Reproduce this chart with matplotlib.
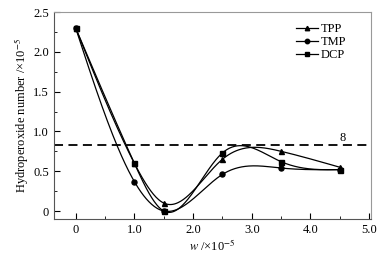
import numpy as np
import matplotlib
matplotlib.use("Agg")
import matplotlib.pyplot as plt
from matplotlib.ticker import MultipleLocator, FuncFormatter

plt.rcParams["font.family"] = ["Liberation Serif", "DejaVu Serif"]
plt.rcParams["mathtext.fontset"] = "stix"

w = [0.0, 1.0, 1.5, 2.5, 3.5, 4.5]
tpp = [2.30, 0.60, 0.10, 0.65, 0.75, 0.55]
tmp = [2.30, 0.37, 0.00, 0.46, 0.54, 0.52]
dcp = [2.30, 0.60, 0.00, 0.73, 0.62, 0.52]
series = [("TPP", tpp, "^"), ("TMP", tmp, "o"), ("DCP", dcp, "s")]
threshold = 0.83


def natural_spline(x, y, n=300):
    # natural cubic spline through the points, for Origin-style smooth curves
    x = np.asarray(x, float); y = np.asarray(y, float)
    h = np.diff(x); k = len(x)
    A = np.zeros((k, k)); b = np.zeros(k)
    A[0, 0] = A[-1, -1] = 1
    for i in range(1, k - 1):
        A[i, i - 1], A[i, i], A[i, i + 1] = h[i - 1], 2 * (h[i - 1] + h[i]), h[i]
        b[i] = 3 * ((y[i + 1] - y[i]) / h[i] - (y[i] - y[i - 1]) / h[i - 1])
    c = np.linalg.solve(A, b)
    xs = np.linspace(x[0], x[-1], n)
    idx = np.clip(np.searchsorted(x, xs) - 1, 0, k - 2)
    d = xs - x[idx]; hi = h[idx]
    bb = (y[idx + 1] - y[idx]) / hi - hi * (2 * c[idx] + c[idx + 1]) / 3
    dd = (c[idx + 1] - c[idx]) / (3 * hi)
    return xs, y[idx] + bb * d + c[idx] * d ** 2 + dd * d ** 3


fig = plt.figure(figsize=(3.88, 2.57), dpi=100)
ax = fig.add_axes([0.139, 0.148, 0.817, 0.805])

for name, vals, mk in series:
    xs, ys = natural_spline(w, vals)
    ax.plot(xs, ys, color="black", lw=0.9)
    ax.plot(w, vals, ls="none", marker=mk, ms=3.6, color="black")
    ax.plot([], [], color="black", lw=0.9, marker=mk, ms=3.2, label=name)

ax.axhline(threshold, color="black", ls=(0, (5, 3)), lw=1.3)
ax.text(4.5, threshold + 0.05, "8", fontsize=9)

ax.set_xlim(-0.37, 5.03)
ax.set_ylim(-0.1, 2.5)
ax.xaxis.set_major_locator(MultipleLocator(1.0))
ax.xaxis.set_minor_locator(MultipleLocator(0.5))
ax.yaxis.set_major_locator(MultipleLocator(0.5))
ax.yaxis.set_minor_locator(MultipleLocator(0.25))
fmt = FuncFormatter(lambda v, p: "0" if abs(v) < 1e-9 else f"{v:.1f}")
ax.xaxis.set_major_formatter(fmt)
ax.yaxis.set_major_formatter(fmt)
ax.tick_params(which="both", direction="in", top=False, right=False, labelsize=9)
ax.tick_params(which="major", length=4)
ax.tick_params(which="minor", length=2.5)
for s in ["top", "right"]:
    ax.spines[s].set_color("#999999")
for s in ["left", "bottom"]:
    ax.spines[s].set_color("#555555")

ax.set_xlabel(r"$w$ /×10$^{-5}$", fontsize=9, labelpad=2)
ax.set_ylabel(r"Hydroperoxide number /×10$^{-5}$", fontsize=9, labelpad=2)
ax.legend(loc="upper right", bbox_to_anchor=(0.95, 0.99), frameon=False, fontsize=9,
          handlelength=1.8, handletextpad=0.2, labelspacing=0.1, borderpad=0.2)

fig.savefig("out.png", dpi=100)
